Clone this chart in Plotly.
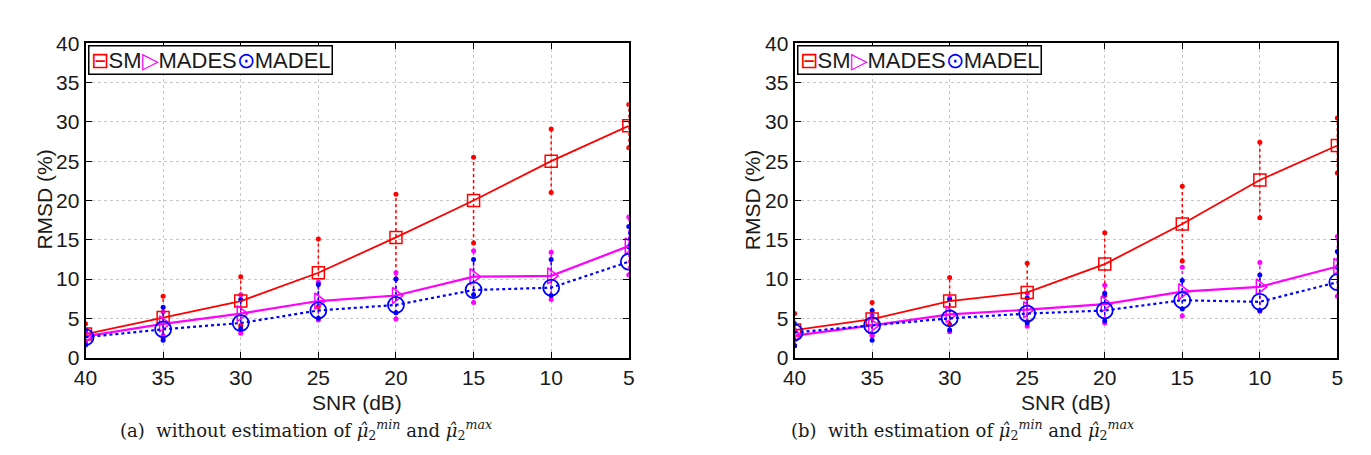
import plotly.graph_objects as go

snr = [40, 35, 30, 25, 20, 15, 10, 5]

# (a) without estimation
a_sm = [3.0, 5.1, 7.2, 10.8, 15.3, 20.0, 25.0, 29.5]
a_sm_hi = [4.3, 7.8, 10.3, 15.1, 20.8, 25.5, 29.1, 32.2]
a_sm_lo = [1.8, 2.5, 4.1, 6.5, 10.0, 14.6, 21.0, 26.7]
a_mades = [2.7, 4.3, 5.6, 7.2, 7.9, 10.3, 10.4, 14.2]
a_mades_hi = [3.4, 5.8, 8.0, 9.6, 10.8, 13.6, 13.4, 17.9]
a_mades_lo = [2.0, 2.8, 3.1, 4.8, 4.9, 7.0, 7.4, 10.5]
a_madel = [2.6, 3.6, 4.4, 6.0, 6.7, 8.6, 8.9, 12.2]
a_madel_hi = [3.5, 6.4, 7.4, 9.3, 10.0, 12.5, 12.5, 16.7]
a_madel_lo = [1.6, 2.2, 3.7, 5.0, 5.7, 8.0, 7.9, 14.1]

# (b) with estimation
b_sm = [3.5, 4.9, 7.2, 8.3, 11.9, 17.0, 22.6, 27.0]
b_sm_hi = [5.6, 7.0, 10.2, 12.0, 15.9, 21.8, 27.4, 30.5]
b_sm_lo = [1.5, 2.8, 4.2, 4.6, 7.9, 12.3, 17.8, 23.5]
b_mades = [2.8, 4.1, 5.5, 6.1, 6.8, 8.4, 9.0, 11.6]
b_mades_hi = [3.5, 5.4, 7.6, 8.2, 9.2, 11.5, 12.1, 15.4]
b_mades_lo = [2.2, 2.8, 3.3, 4.0, 4.4, 5.3, 5.9, 7.8]
b_madel = [3.2, 4.1, 5.0, 5.6, 6.0, 7.3, 7.1, 9.6]
b_madel_hi = [4.3, 6.0, 7.4, 7.6, 8.2, 9.8, 10.5, 13.5]
b_madel_lo = [1.5, 2.2, 3.5, 4.4, 4.7, 6.2, 6.0, 11.5]

y_ticks = [0, 5, 10, 15, 20, 25, 30, 35, 40]
series_names = ["SM", "MADES", "MADEL"]

RED, MAG, BLUE = "#ff0000", "#ff00ff", "#0000ff"
SANS = "Liberation Sans"
SERIF = "DejaVu Serif"
TXT = "#1a1a1a"
FS = 21

W, H = 1371, 455


def px(X):
    return X / W


def py(Y):
    return 1 - Y / H


fig = go.Figure()


def err_trace(x, lo, hi, color, xa, ya):
    xs, ys = [], []
    for xv, l, h in zip(x, lo, hi):
        xs += [xv, xv, None]
        ys += [l, h, None]
    return go.Scatter(x=xs, y=ys, mode="lines+markers", xaxis=xa, yaxis=ya,
                      line=dict(color=color, width=1.5, dash="dot"),
                      marker=dict(color=color, size=5, symbol="circle"),
                      showlegend=False, hoverinfo="skip")


panels = [
    ("x", "y", (a_sm, a_sm_lo, a_sm_hi), (a_mades, a_mades_lo, a_mades_hi), (a_madel, a_madel_lo, a_madel_hi)),
    ("x2", "y2", (b_sm, b_sm_lo, b_sm_hi), (b_mades, b_mades_lo, b_mades_hi), (b_madel, b_madel_lo, b_madel_hi)),
]

for xa, ya, sm, mades, madel in panels:
    fig.add_trace(err_trace(snr, sm[1], sm[2], RED, xa, ya))
    fig.add_trace(err_trace(snr, mades[1], mades[2], MAG, xa, ya))
    fig.add_trace(err_trace(snr, madel[1], madel[2], BLUE, xa, ya))
    fig.add_trace(go.Scatter(x=snr, y=sm[0], name=series_names[0], mode="lines+markers", xaxis=xa, yaxis=ya,
                             showlegend=False,
                             line=dict(color=RED, width=1.8),
                             marker=dict(symbol="square-open", size=12, color=RED, line=dict(width=1.5))))
    fig.add_trace(go.Scatter(x=snr, y=mades[0], name=series_names[1], mode="lines+markers", xaxis=xa, yaxis=ya,
                             showlegend=False,
                             line=dict(color=MAG, width=2.2),
                             marker=dict(symbol="triangle-right-open", size=14, color=MAG, line=dict(width=1.5))))
    fig.add_trace(go.Scatter(x=snr, y=madel[0], name=series_names[2], mode="lines+markers", xaxis=xa, yaxis=ya,
                             showlegend=False,
                             line=dict(color=BLUE, width=2.2, dash="dot"),
                             marker=dict(symbol="circle-open", size=16, color=BLUE, line=dict(width=1.8))))

dom1 = [px(74.5), px(625)]
dom2 = [px(793), px(1343)]
ydom = [py(364), py(33)]

axis_common = dict(showline=True, linecolor="black", linewidth=2, mirror="allticks",
                   ticks="inside", ticklen=6, tickcolor="black", tickwidth=1,
                   showgrid=True, gridcolor="#c8c8c8", griddash="dot", gridwidth=1,
                   zeroline=False, tickfont=dict(family=SANS, size=FS, color=TXT))

fig.update_layout(
    width=W, height=H, margin=dict(l=0, r=0, t=0, b=0),
    paper_bgcolor="white", plot_bgcolor="white", showlegend=False,
    xaxis=dict(domain=dom1, anchor="y", range=[40, 5], tickvals=snr, **axis_common),
    yaxis=dict(domain=ydom, anchor="x", range=[0, 40], tickvals=y_ticks, **axis_common),
    xaxis2=dict(domain=dom2, anchor="y2", range=[40, 5], tickvals=snr, **axis_common),
    yaxis2=dict(domain=ydom, anchor="x2", range=[0, 40], tickvals=y_ticks, **axis_common),
)

legend_text = (f'<span style="color:{RED}">⊟</span>{series_names[0]}'
               f'<span style="color:{MAG}">▷</span>{series_names[1]}'
               f'<span style="color:{BLUE}">⊙</span>{series_names[2]}')

ann = []
for d, ylx in [(dom1, px(33)), (dom2, px(751))]:
    cx = (d[0] + d[1]) / 2
    ann.append(dict(text="SNR (dB)", x=cx, y=py(411), xref="paper", yref="paper",
                    xanchor="center", yanchor="middle",
                    showarrow=False, font=dict(family=SANS, size=21, color=TXT)))
    ann.append(dict(text="RMSD (%)", x=ylx, y=py(198), xref="paper", yref="paper",
                    xanchor="center", yanchor="middle",
                    textangle=-90, showarrow=False, font=dict(family=SANS, size=21, color=TXT)))
    ann.append(dict(text=legend_text, x=d[0] + 2.5 / W, y=ydom[1] - 2 / H, xref="paper", yref="paper",
                    xanchor="left", yanchor="top", showarrow=False, align="left",
                    bgcolor="white", bordercolor="black", borderwidth=1.5, borderpad=1,
                    font=dict(family=SANS, size=22, color=TXT)))

ann.append(dict(text="(a)  without estimation of <i>μ̂</i><sub>2</sub><sup><i>min</i></sup> and <i>μ̂</i><sub>2</sub><sup><i>max</i></sup>",
                x=px(298), y=py(440), xref="paper", yref="paper", showarrow=False,
                xanchor="center", yanchor="middle",
                font=dict(family=SERIF, size=18, color=TXT)))
ann.append(dict(text="(b)  with estimation of <i>μ̂</i><sub>2</sub><sup><i>min</i></sup> and <i>μ̂</i><sub>2</sub><sup><i>max</i></sup>",
                x=px(963), y=py(440), xref="paper", yref="paper", showarrow=False,
                xanchor="center", yanchor="middle",
                font=dict(family=SERIF, size=18, color=TXT)))
fig.update_layout(annotations=ann)

fig.write_html("out.html")
